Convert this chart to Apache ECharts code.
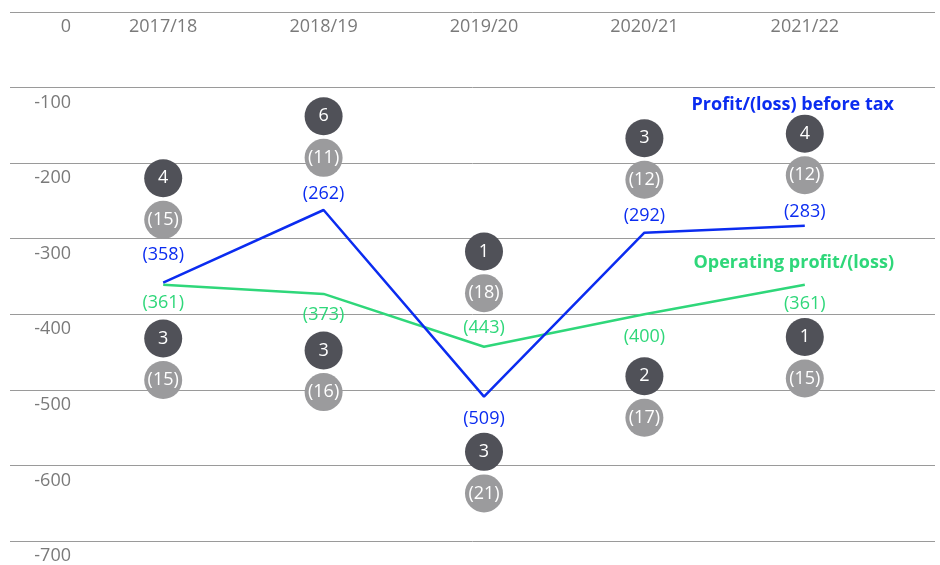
<!DOCTYPE html>
<html>
<head>
<meta charset="utf-8">
<script src="https://cdn.jsdelivr.net/npm/echarts@6/dist/echarts.min.js"></script>
<style>
  html, body { margin: 0; padding: 0; background: #fff; }
  #chart { width: 940px; height: 565px; }
</style>
</head>
<body>
<div id="chart"></div>
<script>
// data
const categories = ['2017/18', '2018/19', '2019/20', '2020/21', '2021/22']
const profitBeforeTax = [-358, -262, -509, -292, -283]
const operatingProfit = [-361, -373, -443, -400, -361]
const upperDark = [4, 6, 1, 3, 4]
const upperGrey = [15, 11, 18, 12, 12]
const lowerDark = [3, 3, 3, 2, 1]
const lowerGrey = [15, 16, 21, 17, 15]
const yMin = -700
const yMax = 0
const yStep = 100

// where the badge pairs sit (axis units)
const upperBadgeAt = [-220, -138, -317, -167, -161]
const lowerBadgeAt = [-432, -448, -582, -482, -430]
const badgeGap = 55

const BLUE = '#0b2cf0'
const GREEN = '#2fd77a'
const DARK = '#505158'
const GREY = '#9b9b9d'
const FONT = '"Open Sans", "Noto Sans", sans-serif'

const chart = echarts.init(document.getElementById('chart'))

// label placement for each point: [position, distance]
const blueLabelPos = [['top', 19], ['top', 7], ['bottom', 13], ['top', 8], ['top', 5]]
const greenLabelPos = [['bottom', 9], ['bottom', 12], ['top', 10], ['bottom', 14], ['bottom', 10]]

const paren = v => '(' + Math.abs(v) + ')'

function lineData (values, pos) {
  return values.map((v, i) => ({
    value: v,
    label: { position: pos[i][0], distance: pos[i][1] }
  }))
}

function badgeSeries (counts, at, offset, color, fmt) {
  return {
    type: 'scatter',
    xAxisIndex: 1,
    yAxisIndex: 1,
    symbol: 'circle',
    symbolSize: 38,
    itemStyle: { color: color, opacity: 1 },
    label: {
      show: true,
      position: 'inside',
      color: '#fff',
      fontFamily: FONT,
      fontSize: 18,
      formatter: p => fmt(p.data[2])
    },
    emphasis: { disabled: true },
    data: counts.map((c, i) => [categories[i], at[i] - offset, c]),
    z: 3
  }
}

function lineSeries (name, values, pos, color) {
  return {
    name: name,
    type: 'line',
    xAxisIndex: 1,
    yAxisIndex: 1,
    symbol: 'circle',
    symbolSize: 0,
    showSymbol: true,
    lineStyle: { color: color, width: 2.5 },
    itemStyle: { color: color },
    label: {
      show: true,
      color: color,
      fontFamily: FONT,
      fontSize: 18,
      formatter: p => paren(p.value)
    },
    emphasis: { disabled: true },
    data: lineData(values, pos)
  }
}

const option = {
  animation: false,
  textStyle: { fontFamily: FONT },
  grid: [
    { left: 10, right: 5, top: 12, bottom: 24 },
    { left: 83, right: 55, top: 12, bottom: 24 }
  ],
  xAxis: [
    { gridIndex: 0, type: 'value', show: false, min: 0, max: 1 },
    {
      gridIndex: 1,
      type: 'category',
      position: 'top',
      data: categories,
      axisLine: { show: false },
      axisTick: { show: false },
      axisLabel: {
        inside: true,
        margin: 6,
        color: '#7a7a7a',
        fontFamily: FONT,
        fontSize: 18
      }
    }
  ],
  yAxis: [
    {
      gridIndex: 0,
      type: 'value',
      min: yMin,
      max: yMax,
      interval: yStep,
      axisLine: { show: false },
      axisTick: { show: false },
      splitLine: { lineStyle: { color: '#9a9a9a', width: 1 } },
      axisLabel: {
        inside: true,
        margin: 61,
        align: 'right',
        verticalAlign: 'top',
        padding: [6, 0, 0, 0],
        color: '#7a7a7a',
        fontFamily: FONT,
        fontSize: 18
      }
    },
    { gridIndex: 1, type: 'value', min: yMin, max: yMax, show: false }
  ],
  graphic: [
    {
      type: 'text',
      x: 894,
      y: 104.5,
      style: {
        text: 'Profit/(loss) before tax',
        fill: BLUE,
        font: 'bold 18px ' + FONT,
        align: 'right',
        verticalAlign: 'middle'
      }
    },
    {
      type: 'text',
      x: 894,
      y: 262.5,
      style: {
        text: 'Operating profit/(loss)',
        fill: GREEN,
        font: 'bold 18px ' + FONT,
        align: 'right',
        verticalAlign: 'middle'
      }
    }
  ],
  series: [
    lineSeries('Operating profit/(loss)', operatingProfit, greenLabelPos, GREEN),
    lineSeries('Profit/(loss) before tax', profitBeforeTax, blueLabelPos, BLUE),
    badgeSeries(upperDark, upperBadgeAt, 0, DARK, v => String(v)),
    badgeSeries(upperGrey, upperBadgeAt, badgeGap, GREY, v => '(' + v + ')'),
    badgeSeries(lowerDark, lowerBadgeAt, 0, DARK, v => String(v)),
    badgeSeries(lowerGrey, lowerBadgeAt, badgeGap, GREY, v => '(' + v + ')')
  ]
}

chart.setOption(option)
</script>
</body>
</html>
